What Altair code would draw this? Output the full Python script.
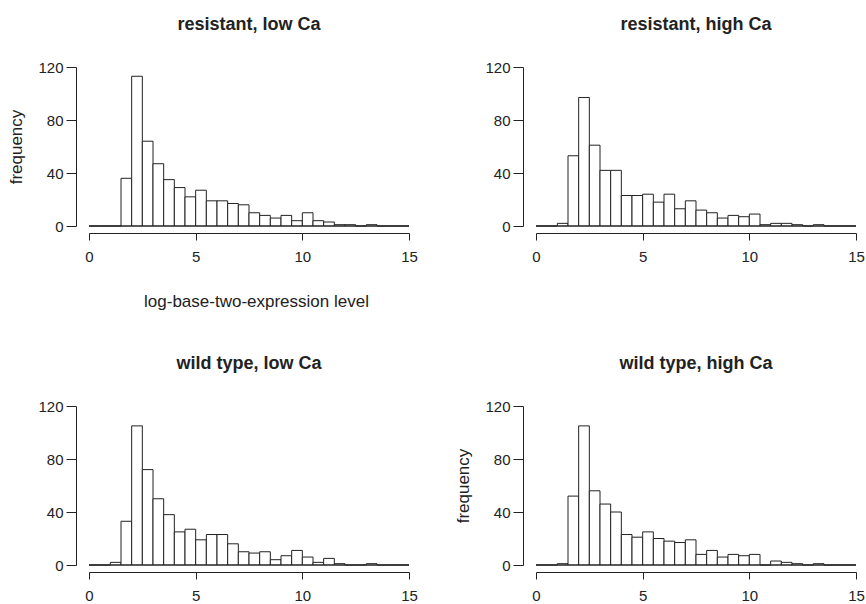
import altair as alt
import pandas as pd

# 30 histogram bins of width 0.5 from 0 to 15
bin_starts = [i * 0.5 for i in range(30)]

resistant_low = [0, 0, 0, 36, 113, 64, 47, 35, 29, 22, 27, 19, 19, 17, 16,
                 10, 8, 6, 8, 4, 10, 4, 3, 1, 1, 0, 1, 0, 0, 0]
resistant_high = [0, 0, 2, 53, 97, 61, 42, 42, 23, 23, 24, 18, 24, 13, 19,
                  12, 10, 6, 8, 7, 9, 1, 2, 2, 1, 0, 1, 0, 0, 0]
wild_low = [0, 0, 2, 33, 105, 72, 50, 38, 25, 27, 19, 23, 23, 16, 10,
            9, 10, 4, 7, 11, 6, 2, 5, 1, 0, 0, 1, 0, 0, 0]
wild_high = [0, 0, 1, 52, 105, 56, 46, 40, 23, 21, 25, 20, 18, 17, 19,
             8, 11, 6, 8, 7, 8, 0, 3, 2, 1, 0, 1, 0, 0, 0]

titles = ["resistant, low Ca", "resistant, high Ca", "wild type, low Ca", "wild type, high Ca"]
series = [resistant_low, resistant_high, wild_low, wild_high]
y_titles = ["frequency", None, None, "frequency"]
x_titles = ["log-base-two-expression level", None, None, None]

x_ticks = [0, 5, 10, 15]
y_ticks = [0, 20, 40, 60, 80, 100, 120]

FONT = "Liberation Sans"
INK = "#222222"
W, H = 320, 159


def panel(title, counts, ytitle, xtitle):
    df = pd.DataFrame({
        "start": bin_starts,
        "end": [b + 0.5 for b in bin_starts],
        "count": counts,
        "base": [0] * len(bin_starts),
    })
    base_df = pd.DataFrame({
        "start": [bin_starts[0]],
        "end": [bin_starts[-1] + 0.5],
        "base": [0],
    })
    x_axis_kw = dict(values=x_ticks, offset=7, tickSize=7, labelPadding=9,
                     labelFlush=False, grid=False, title=xtitle)
    if xtitle:
        x_axis_kw.update(titlePadding=29, titleX=167)
    y_axis_kw = dict(values=y_ticks, offset=13, tickSize=10, labelPadding=3,
                     labelFlush=False, labelOverlap=False, grid=False,
                     labelExpr="datum.value % 40 === 0 ? datum.label : ''",
                     title=ytitle)
    if ytitle:
        y_axis_kw.update(titlePadding=12.5)
    x_enc = alt.X("start:Q", scale=alt.Scale(domain=[0, 15], nice=False, zero=False),
                  axis=alt.Axis(**x_axis_kw))
    y_scale = alt.Scale(domain=[0, 120], nice=False)
    bars = alt.Chart(df).mark_rect(fill="white", stroke=INK, strokeWidth=1).encode(
        x=x_enc,
        x2="end:Q",
        y=alt.Y("count:Q", scale=y_scale, axis=alt.Axis(**y_axis_kw)),
        y2="base:Q",
    )
    baseline = alt.Chart(base_df).mark_rule(color=INK, strokeWidth=1).encode(
        x=alt.X("start:Q"),
        x2="end:Q",
        y=alt.Y("base:Q"),
    )
    return alt.layer(bars, baseline).properties(
        width=W, height=H,
        title=alt.TitleParams(text=title, font=FONT, fontSize=18, fontWeight="bold",
                              color=INK, anchor="middle", offset=26),
    )


charts = [panel(t, s, yt, xt) for t, s, yt, xt in zip(titles, series, y_titles, x_titles)]

chart = alt.concat(
    *charts, columns=2, spacing={"row": 180, "column": 127}, bounds="flush"
).properties(
    padding={"left": 7, "top": 16, "right": 0, "bottom": 0},
    background="white",
).configure_view(
    stroke=None
).configure_axis(
    domainColor=INK, tickColor=INK, domainWidth=1, tickWidth=1,
    labelColor=INK, labelFont=FONT, labelFontSize=15,
    titleColor=INK, titleFont=FONT, titleFontSize=17, titleFontWeight="normal",
)

chart.save("out.html", embed_options={"renderer": "svg", "actions": False})
